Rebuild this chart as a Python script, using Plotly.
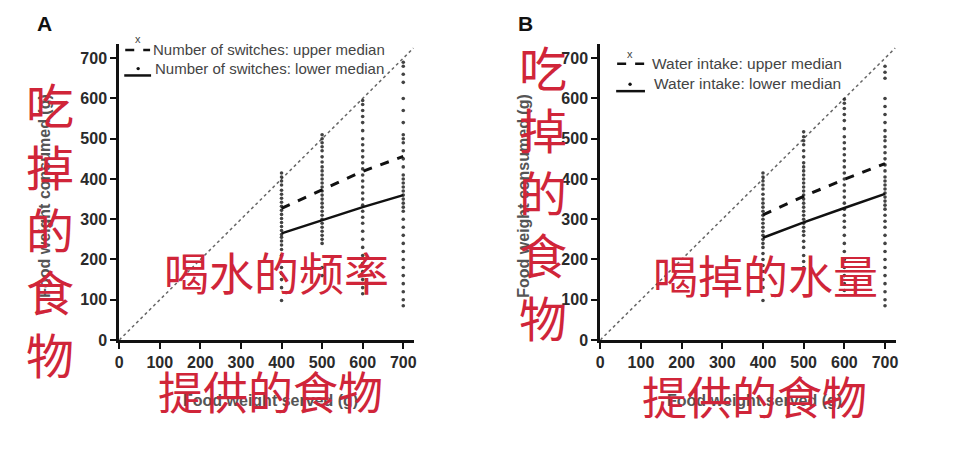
import plotly.graph_objects as go

# ---------------- data ----------------
served = [400, 500, 600, 700]

# Panel A: number of switches
a_upper = [327, 372, 419, 456]
a_lower = [265, 297, 330, 360]
a_pts = {
    400: [415, 405, 395, 385, 372, 362, 352, 342, 332, 322, 312, 302, 292, 282, 272, 262,
          255, 246, 236, 225, 210, 195, 180, 165, 150, 130, 98],
    500: [510, 500, 490, 480, 470, 455, 442, 430, 420, 410, 400, 390, 380, 370, 360, 350,
          340, 330, 320, 310, 300, 290, 280, 270, 260, 250, 240, 180, 160],
    600: [595, 585, 570, 555, 540, 520, 500, 485, 470, 455, 440, 425, 410, 395, 380, 365,
          350, 335, 320, 305, 290, 270, 250, 230, 210, 190, 170, 150, 130, 115],
    700: [690, 680, 660, 640, 600, 570, 540, 510, 500, 490, 470, 450, 430, 410, 400, 390,
          380, 370, 360, 350, 340, 330, 320, 300, 280, 260, 240, 220, 200, 180, 160, 140,
          120, 100, 85],
}

# Panel B: water intake
b_upper = [311, 357, 399, 438]
b_lower = [254, 292, 328, 363]
b_pts = {
    400: [415, 405, 395, 385, 375, 362, 350, 340, 330, 320, 310, 300, 290, 280, 270, 260,
          250, 240, 230, 215, 200, 185, 170, 150, 130, 98],
    500: [517, 505, 495, 485, 470, 455, 440, 430, 420, 410, 400, 390, 380, 370, 360, 350,
          340, 330, 320, 310, 300, 290, 280, 270, 260, 245, 230, 210, 195, 180],
    600: [598, 588, 575, 560, 545, 525, 505, 490, 475, 460, 445, 430, 415, 400, 385, 370,
          355, 340, 325, 310, 295, 280, 260, 240, 220, 200, 180, 160, 140, 123],
    700: [680, 665, 650, 600, 580, 560, 540, 520, 505, 495, 480, 465, 450, 435, 420, 405,
          395, 385, 375, 365, 355, 345, 335, 325, 310, 295, 280, 260, 240, 220, 200, 180,
          160, 140, 120, 100, 85],
}

ticks = [0, 100, 200, 300, 400, 500, 600, 700]
identity = [0, 725]

legend_a = ["Number of switches: upper median", "Number of switches: lower median"]
legend_b = ["Water intake: upper median", "Water intake: lower median"]
x_title = "Food weight served (g)"
y_title = "Food weight consumed (g)"
red_y = "吃<br>掉<br>的<br>食<br>物"
red_x = "提供的食物"
red_a = "喝水的频率"
red_b = "喝掉的水量"

RED = "#d02539"
CJK = "Noto Sans CJK SC"

fig = go.Figure()

def add_panel(xa, ya, upper, lower, pts):
    fig.add_trace(go.Scatter(x=identity, y=identity, mode="lines", xaxis=xa, yaxis=ya,
                             line=dict(color="#666", width=1.5, dash="dot"), showlegend=False))
    xs, ys = [], []
    for k, v in pts.items():
        xs += [k] * len(v)
        ys += v
    fig.add_trace(go.Scatter(x=xs, y=ys, mode="markers", xaxis=xa, yaxis=ya,
                             marker=dict(color="#222", size=3.6, opacity=0.85), showlegend=False))
    fig.add_trace(go.Scatter(x=served, y=upper, mode="lines", xaxis=xa, yaxis=ya,
                             line=dict(color="#111", width=3, dash="dash"), showlegend=False))
    fig.add_trace(go.Scatter(x=served, y=lower, mode="lines", xaxis=xa, yaxis=ya,
                             line=dict(color="#111", width=2.5), showlegend=False))

add_panel("x", "y", a_upper, a_lower, a_pts)
add_panel("x2", "y2", b_upper, b_lower, b_pts)

ax_common = dict(showline=True, linecolor="#111", linewidth=3, ticks="outside",
                 ticklen=6, tickwidth=2.4, tickcolor="#111", showgrid=False, zeroline=False,
                 tickvals=ticks, tickfont=dict(family="Liberation Sans", size=16, color="#2a2a2a", weight="bold"))

fig.update_layout(
    width=960, height=450, margin=dict(l=0, r=0, t=0, b=0),
    paper_bgcolor="white", plot_bgcolor="white",
    xaxis=dict(domain=[0.1208, 0.430], range=[0, 727], anchor="y", **ax_common),
    yaxis=dict(domain=[0.229, 0.9], range=[0, 735], anchor="x", **ax_common),
    xaxis2=dict(domain=[0.625, 0.935], range=[0, 727], anchor="y2", **ax_common),
    yaxis2=dict(domain=[0.229, 0.9], range=[0, 735], anchor="x2", **ax_common),
)

def px(x):
    return x / 960

def py(y):
    return 1 - y / 450

ann = []
# panel letters
ann.append(dict(x=px(41), y=py(24), text="<b>A</b>", font=dict(family="Liberation Sans", size=21, color="#111")))
ann.append(dict(x=px(525), y=py(24), text="<b>B</b>", font=dict(family="Liberation Sans", size=21, color="#111")))

# grey axis titles
gfont = dict(family="Liberation Sans", size=16, color="#555", weight="bold")
ann.append(dict(x=px(268), y=py(409), text=x_title, font=gfont))
ann.append(dict(x=px(755), y=py(409), text=x_title, font=gfont))
ann.append(dict(x=px(40), y=py(200), text=y_title, textangle=-90, font=gfont))
ann.append(dict(x=px(522), y=py(200), text=y_title, textangle=-90, font=gfont))

# legends
lfont_a = dict(family="Liberation Sans", size=15, color="#444")
lfont_b = dict(family="Liberation Sans", size=15.5, color="#444")
ann.append(dict(x=px(135), y=py(40), text="x", font=dict(family="Liberation Sans", size=11, color="#444")))
ann.append(dict(x=px(148), y=py(51), text=legend_a[0], xanchor="left", font=lfont_a))
ann.append(dict(x=px(150), y=py(70), text=legend_a[1], xanchor="left", font=lfont_a))
ann.append(dict(x=px(630), y=py(55), text="x", font=dict(family="Liberation Sans", size=11, color="#444")))
ann.append(dict(x=px(650), y=py(65), text=legend_b[0], xanchor="left", font=lfont_b))
ann.append(dict(x=px(652), y=py(85), text=legend_b[1], xanchor="left", font=lfont_b))

# red overlays
rfont = dict(family=CJK, size=45, color=RED)
ann.append(dict(x=px(46), y=py(233), text=red_y, font=dict(family=CJK, size=48, color=RED)))
ann.append(dict(x=px(542), y=py(195), text=red_y, font=dict(family=CJK, size=48, color=RED)))
ann.append(dict(x=px(274), y=py(277), text=red_a, font=rfont))
ann.append(dict(x=px(766), y=py(280), text=red_b, font=rfont))
ann.append(dict(x=px(268), y=py(398), text=red_x, font=rfont))
ann.append(dict(x=px(755), y=py(404), text=red_x, font=rfont))

for a in ann:
    a.setdefault("xref", "paper")
    a.setdefault("yref", "paper")
    a.setdefault("showarrow", False)
    a.setdefault("xanchor", "center")
    a.setdefault("yanchor", "middle")
fig.update_layout(annotations=ann)

# legend symbols (shapes)
shapes = [
    dict(type="line", xref="paper", yref="paper", x0=px(122), x1=px(147), y0=py(51), y1=py(51),
         line=dict(color="#111", width=2.5, dash="dash")),
    dict(type="line", xref="paper", yref="paper", x0=px(121), x1=px(148), y0=py(77), y1=py(77),
         line=dict(color="#111", width=2.5)),
    dict(type="circle", xref="paper", yref="paper", x0=px(133.3), x1=px(136.7), y0=py(68.3), y1=py(71.7),
         fillcolor="#111", line=dict(width=0)),
    dict(type="line", xref="paper", yref="paper", x0=px(617), x1=px(645), y0=py(65), y1=py(65),
         line=dict(color="#111", width=2.5, dash="dash")),
    dict(type="line", xref="paper", yref="paper", x0=px(616), x1=px(645), y0=py(93), y1=py(93),
         line=dict(color="#111", width=2.5)),
    dict(type="circle", xref="paper", yref="paper", x0=px(628.3), x1=px(631.7), y0=py(84.3), y1=py(87.7),
         fillcolor="#111", line=dict(width=0)),
]
fig.update_layout(shapes=shapes)

fig.write_html("out.html")
